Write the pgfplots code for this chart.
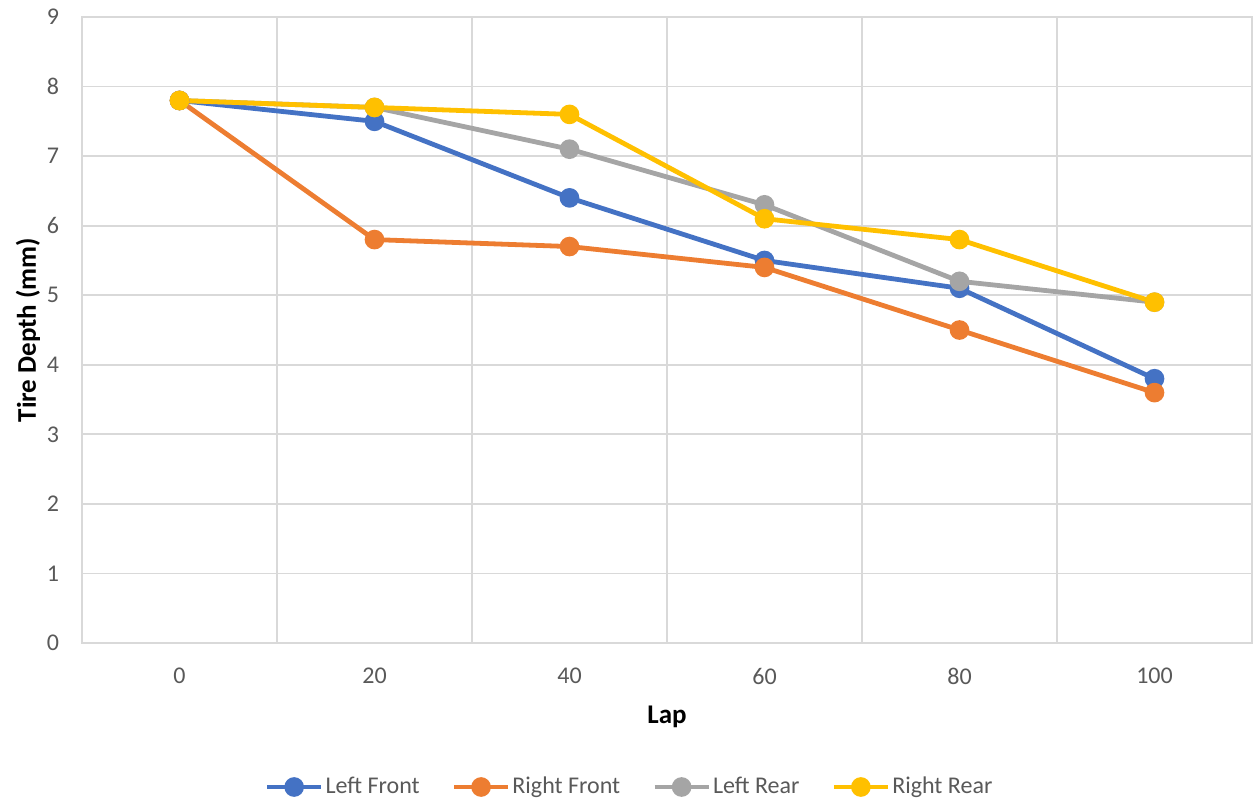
\documentclass[border=0pt]{standalone}
\usepackage{fontspec}
\setmainfont{Carlito}
\usepackage{pgfplots}
\pgfplotsset{compat=1.18}

\definecolor{cBlue}{HTML}{4472C4}
\definecolor{cOrange}{HTML}{ED7D31}
\definecolor{cGray}{HTML}{A5A5A5}
\definecolor{cGold}{HTML}{FFC000}
\definecolor{gridc}{HTML}{D9D9D9}
\definecolor{txt}{HTML}{595959}

\begin{document}
\begin{tikzpicture}
  \begin{axis}[
    at={(0,0)}, anchor=south west,
    scale only axis,
    width=585pt, height=313pt,
    xmin=-10, xmax=110,
    ymin=0, ymax=9,
    xtick={0,20,...,100},
    minor xtick={-10,10,30,50,70,90,110},
    ytick={0,1,...,9},
    xminorgrids, ymajorgrids,
    grid style={draw=gridc, line width=0.9pt},
    minor grid style={draw=gridc, line width=0.9pt},
    axis line style={draw=gridc, line width=0.9pt},
    major tick length=0pt, minor tick length=0pt,
    /pgf/number format/assume math mode=true,
    tick label style={font=\fontsize{12}{14}\selectfont, text=txt},
    yticklabel style={xshift=-8pt},
    xticklabel style={yshift=-9pt},
    xlabel={Lap},
    ylabel={Tire Depth (mm)},
    label style={font=\fontsize{13.5}{16}\selectfont\bfseries, text=black},
    xlabel style={at={(axis description cs:0.5,0)}, anchor=center, yshift=-37pt},
    ylabel style={at={(axis description cs:0,0.5)}, anchor=center, rotate=0, yshift=27pt},
    every axis plot/.append style={line width=2.4pt, mark=*, mark size=3.7pt},
    legend columns=4,
    legend image code/.code={
      \draw[mark repeat=2, mark phase=2, #1]
        plot coordinates {(0pt,0pt) (13.5pt,0pt) (27pt,0pt)};
    },
    legend style={
      draw=none, fill=none,
      at={(axis description cs:0.468,0)}, yshift=-72pt, anchor=center,
      font=\fontsize{12}{14}\selectfont, text=txt,
      nodes={inner xsep=1pt},
      /tikz/every even column/.append style={column sep=15pt},
      /tikz/every odd column/.append style={column sep=0pt},
    },
  ]
    \addplot[color=cBlue, mark options={fill=cBlue, draw=cBlue}] coordinates {
      (0,7.8) (20,7.5) (40,6.4) (60,5.5) (80,5.1) (100,3.8)};
    \addlegendentry{Left Front}
    \addplot[color=cOrange, mark options={fill=cOrange, draw=cOrange}] coordinates {
      (0,7.8) (20,5.8) (40,5.7) (60,5.4) (80,4.5) (100,3.6)};
    \addlegendentry{Right Front}
    \addplot[color=cGray, mark options={fill=cGray, draw=cGray}] coordinates {
      (0,7.8) (20,7.7) (40,7.1) (60,6.3) (80,5.2) (100,4.9)};
    \addlegendentry{Left Rear}
    \addplot[color=cGold, mark options={fill=cGold, draw=cGold}] coordinates {
      (0,7.8) (20,7.7) (40,7.6) (60,6.1) (80,5.8) (100,4.9)};
    \addlegendentry{Right Rear}
  \end{axis}
  \pgfresetboundingbox
  \path (-41pt,-80pt) rectangle (585.5pt,321.5pt);
\end{tikzpicture}
\end{document}
